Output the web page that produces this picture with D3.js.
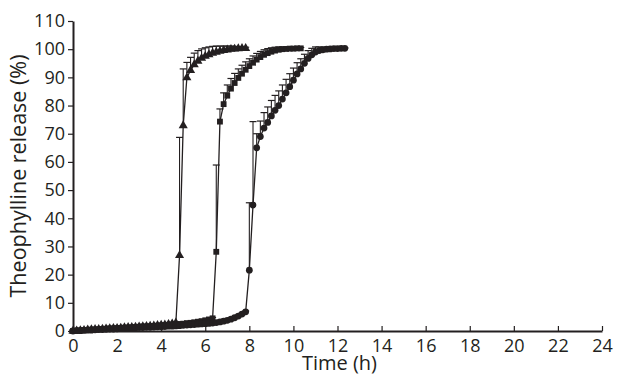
<!DOCTYPE html>
<html>
<head>
<meta charset="utf-8">
<script src="https://cdn.jsdelivr.net/npm/d3@7"></script>
<style>
  body { margin: 0; background: #fff; }
  svg { display: block; }
  text { font-family: "Open Sans", "Noto Sans", sans-serif; fill: #231f20; }
</style>
</head>
<body>
<svg id="chart" width="617" height="379"></svg>
<script>
// sampling times, minutes
const timeMin = [0,10,20,30,40,50,60,70,80,90,100,110,120,130,140,150,160,170,180,190,
  200,210,220,230,240,250,260,270,280,290,300,310,320,330,340,350,360,370,380,390,
  400,410,420,430,440,450,460,470,480,490,500,510,520,530,540,550,560,570,580,590,
  600,610,620,630,640,650,660,670,680,690,700,710,720,730,740];

// triangles
const triRelease = [0,0.1,0.2,0.3,0.4,0.5,0.6,0.6,0.7,0.8,0.9,1.0,1.0,1.1,1.2,1.3,1.3,1.4,1.5,1.6,
  1.7,1.8,1.9,2.0,2.1,2.2,2.4,2.6,2.9,26.8,72.9,89.9,92.5,94.5,95.8,96.8,97.5,98.1,98.6,99.0,
  99.3,99.6,99.8,100.0,100.1,100.2,100.3,100.3];
const triSD = [0.3,0.3,0.3,0.3,0.3,0.3,0.3,0.3,0.3,0.3,0.3,0.3,0.3,0.3,0.3,0.3,0.3,0.3,0.3,0.3,
  0.3,0.3,0.3,0.3,0.3,0.3,0.3,0.3,0.3,41.9,20.1,5.4,4.6,4.1,3.7,3.3,3.0,2.7,2.4,2.1,
  1.8,1.5,1.3,1.1,0.9,0.7,0.5,0.4];

// squares
const sqRelease = [0,0.1,0.2,0.3,0.4,0.5,0.5,0.6,0.7,0.8,0.9,0.9,1.0,1.1,1.2,1.2,1.3,1.4,1.5,1.6,
  1.6,1.7,1.8,1.9,2.0,2.1,2.2,2.3,2.4,2.5,2.6,2.8,2.9,3.1,3.3,3.5,3.8,4.1,4.5,28.1,
  74.3,80.5,83.5,86.0,88.0,89.8,91.3,92.7,94.0,95.2,96.3,97.2,98.0,98.6,99.1,99.5,99.8,100.0,100.1,100.2,
  100.2,100.3,100.3];
const sqSD = [0.3,0.3,0.3,0.3,0.3,0.3,0.3,0.3,0.3,0.3,0.3,0.3,0.3,0.3,0.3,0.3,0.3,0.3,0.3,0.3,
  0.3,0.3,0.3,0.3,0.3,0.3,0.3,0.3,0.3,0.3,0.3,0.3,0.3,0.3,0.3,0.3,0.3,0.3,0.3,30.8,
  4.5,4.0,3.8,3.6,3.4,3.2,3.0,2.8,2.6,2.4,2.2,2.0,1.8,1.6,1.4,1.2,1.0,0.8,0.6,0.5,
  0.4,0.4,0.3];

// circles
const circRelease = [0,0.1,0.1,0.2,0.3,0.3,0.4,0.5,0.5,0.6,0.7,0.7,0.8,0.9,0.9,1.0,1.0,1.1,1.2,1.2,
  1.3,1.3,1.4,1.5,1.5,1.6,1.7,1.7,1.8,1.9,2.0,2.1,2.2,2.3,2.4,2.5,2.6,2.7,2.8,3.0,
  3.2,3.5,3.8,4.2,4.7,5.3,6.0,6.8,21.6,44.7,65.0,69.0,72.0,74.0,76.3,78.3,80.0,82.3,84.5,86.7,
  89.0,91.2,93.0,95.0,96.7,98.0,99.0,99.5,99.8,100.0,100.1,100.2,100.2,100.3,100.3];
const circSD = [0.3,0.3,0.3,0.3,0.3,0.3,0.3,0.3,0.3,0.3,0.3,0.3,0.3,0.3,0.3,0.3,0.3,0.3,0.3,0.3,
  0.3,0.3,0.3,0.3,0.3,0.3,0.3,0.3,0.3,0.3,0.3,0.3,0.3,0.3,0.3,0.3,0.3,0.3,0.3,0.3,
  0.3,0.3,0.3,0.3,0.3,0.3,0.3,0.3,23.9,29.6,5.0,5.5,5.5,5.5,5.5,5.3,5.2,5.0,4.8,4.6,
  4.3,4.0,3.6,3.2,2.8,2.3,1.8,1.3,0.9,0.6,0.4,0.3,0.3,0.2,0.2];

const xTicks = [0,2,4,6,8,10,12,14,16,18,20,22,24];
const yTicks = [0,10,20,30,40,50,60,70,80,90,100,110];

const ink = "#231f20";
const svg = d3.select("#chart");
const margin = { top: 21, right: 15, bottom: 48, left: 73 };
const width = +svg.attr("width");
const height = +svg.attr("height");
const innerW = width - margin.left - margin.right;
const innerH = height - margin.top - margin.bottom;

const x = d3.scaleLinear().domain([0, 24]).range([0, innerW]);
const y = d3.scaleLinear().domain([0, 110]).range([innerH, 0]);

const g = svg.append("g").attr("transform", `translate(${margin.left},${margin.top})`);

const series = [
  { name: "tri", values: triRelease, sd: triSD, symbol: d3.symbolTriangle, size: 36 },
  { name: "sq", values: sqRelease, sd: sqSD, symbol: d3.symbolSquare, size: 34 },
  { name: "circ", values: circRelease, sd: circSD, symbol: d3.symbolCircle, size: 36 }
];

const line = d3.line().x(d => x(d.t)).y(d => y(d.v));
const capW = 3.5;

series.forEach(s => {
  const pts = s.values.map((v, i) => ({ t: timeMin[i] / 60, v: v, sd: s.sd[i] }));
  const sg = g.append("g").attr("class", s.name);

  // upper error bars only
  const eb = sg.selectAll("g.err").data(pts).join("g").attr("class", "err");
  eb.append("line")
    .attr("x1", d => x(d.t)).attr("x2", d => x(d.t))
    .attr("y1", d => y(d.v)).attr("y2", d => y(d.v + d.sd))
    .attr("stroke", ink).attr("stroke-width", 1.1);
  eb.append("line")
    .attr("x1", d => x(d.t) - capW).attr("x2", d => x(d.t) + capW)
    .attr("y1", d => y(d.v + d.sd)).attr("y2", d => y(d.v + d.sd))
    .attr("stroke", ink).attr("stroke-width", 1.2);

  sg.append("path").datum(pts)
    .attr("d", line)
    .attr("fill", "none").attr("stroke", ink).attr("stroke-width", 1.3);

  sg.selectAll("path.mk").data(pts).join("path")
    .attr("class", "mk")
    .attr("transform", d => `translate(${x(d.t)},${y(d.v)})`)
    .attr("d", d3.symbol().type(s.symbol).size(s.size))
    .attr("fill", ink);
});

// axes
const yAxis = g.append("g")
  .call(d3.axisLeft(y).tickValues(yTicks).tickSize(5).tickPadding(3).tickSizeOuter(0));
const xAxis = g.append("g")
  .attr("transform", `translate(0,${innerH})`)
  .call(d3.axisBottom(x).tickValues(xTicks).tickSize(-5).tickPadding(8).tickSizeOuter(0));

[xAxis, yAxis].forEach(a => {
  a.select(".domain").attr("stroke", ink).attr("stroke-width", 2);
  a.selectAll(".tick line").attr("stroke", ink).attr("stroke-width", 1.2);
  a.selectAll(".tick text").style("font-size", "18px").attr("fill", ink);
  a.attr("font-family", null);
});

svg.append("text")
  .attr("x", margin.left + x(12) + 2)
  .attr("y", 370)
  .attr("text-anchor", "middle")
  .style("font-size", "20px")
  .text("Time (h)");

svg.append("text")
  .attr("transform", `translate(26,${margin.top + y(55)}) rotate(-90)`)
  .attr("text-anchor", "middle")
  .style("font-size", "21.5px")
  .text("Theophylline release (%)");
</script>
</body>
</html>
